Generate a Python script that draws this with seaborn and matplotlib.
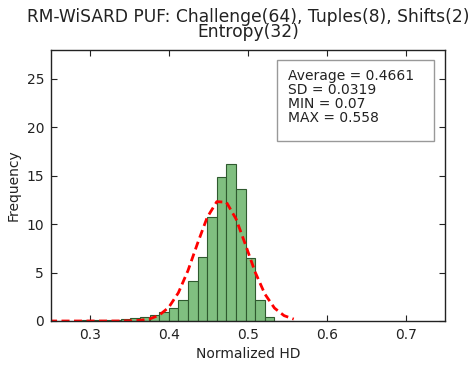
import numpy as np
import pandas as pd
import matplotlib
matplotlib.use("Agg")
import matplotlib.pyplot as plt
from matplotlib.patches import Rectangle
import seaborn as sns

# Summary values shown in the chart
AVERAGE = 0.4661
SD = 0.0319
MIN_HD = 0.07
MAX_HD = 0.558
N_BINS = 40

# Histogram heights (normalised frequency) for the 40 bins between MIN and MAX
heights = [
    0.03, 0.0, 0.0, 0.0, 0.0, 0.0, 0.0, 0.0, 0.0, 0.0,
    0.0, 0.0, 0.0, 0.0, 0.02, 0.03, 0.05, 0.05, 0.08, 0.08,
    0.10, 0.15, 0.20, 0.28, 0.45, 0.60, 0.88, 1.33, 2.18, 4.15,
    6.60, 10.70, 14.80, 16.15, 13.65, 6.45, 2.16, 0.45, 0.05, 0.03,
]

x_ticks = [0.3, 0.4, 0.5, 0.6, 0.7]
y_ticks = [0, 5, 10, 15, 20, 25]

stats_text = (f"Average = {AVERAGE}\nSD = {SD}\n"
              f"MIN = {MIN_HD}\nMAX = {MAX_HD}")

edges = np.linspace(MIN_HD, MAX_HD, N_BINS + 1)
centers = (edges[:-1] + edges[1:]) / 2
hist_df = pd.DataFrame({"hd": centers, "freq": heights})

# fitted normal curve from the stated average / SD, evaluated at bin edges
pdf = np.exp(-0.5 * ((edges - AVERAGE) / SD) ** 2) / (SD * np.sqrt(2 * np.pi))
curve_df = pd.DataFrame({"hd": edges, "pdf": pdf})

sns.set_style("white")
plt.rcParams["font.family"] = ["DejaVu Sans"]
plt.rcParams["xtick.direction"] = "in"
plt.rcParams["ytick.direction"] = "in"

fig = plt.figure(figsize=(4.75, 3.65), dpi=100)
ax = fig.add_axes([51 / 475, 1 - 321 / 365, 394 / 475, 271.5 / 365])

sns.histplot(data=hist_df, x="hd", weights="freq", bins=list(edges),
             stat="count", color=(0.5, 0.75, 0.5), alpha=1.0,
             edgecolor="#2f5a2f", linewidth=0.8, ax=ax)
sns.lineplot(data=curve_df, x="hd", y="pdf", color="red", linewidth=2.0,
             linestyle=(0, (2.9, 1.6)), ax=ax)

ax.set_xlim(0.25, 0.75)
ax.set_ylim(0, 28)
ax.set_xticks(x_ticks)
ax.set_yticks(y_ticks)
ax.tick_params(axis="both", which="both", labelsize=10, length=4.5, width=0.8,
               top=True, right=True, bottom=True, left=True, colors="#222222",
               pad=5)
for s in ax.spines.values():
    s.set_color("#222222")
    s.set_linewidth(1.0)

ax.set_xlabel("Normalized HD", fontsize=10, color="#222222", labelpad=4)
ax.set_ylabel("Frequency", fontsize=10, color="#222222", labelpad=4)
ax.set_title("RM-WiSARD PUF: Challenge(64), Tuples(8), Shifts(2)\nEntropy(32)",
             fontsize=12.3, color="#222222", pad=9, linespacing=0.8)

ax.add_patch(Rectangle((0.574, 0.663), 0.398, 0.298, transform=ax.transAxes,
                       facecolor="white", edgecolor="#999999", linewidth=1.0,
                       zorder=5))
ax.text(0.602, 0.928, stats_text, transform=ax.transAxes, ha="left", va="top",
        fontsize=10, color="#222222", linespacing=1.0, zorder=6)

fig.savefig("out.png", dpi=100)
